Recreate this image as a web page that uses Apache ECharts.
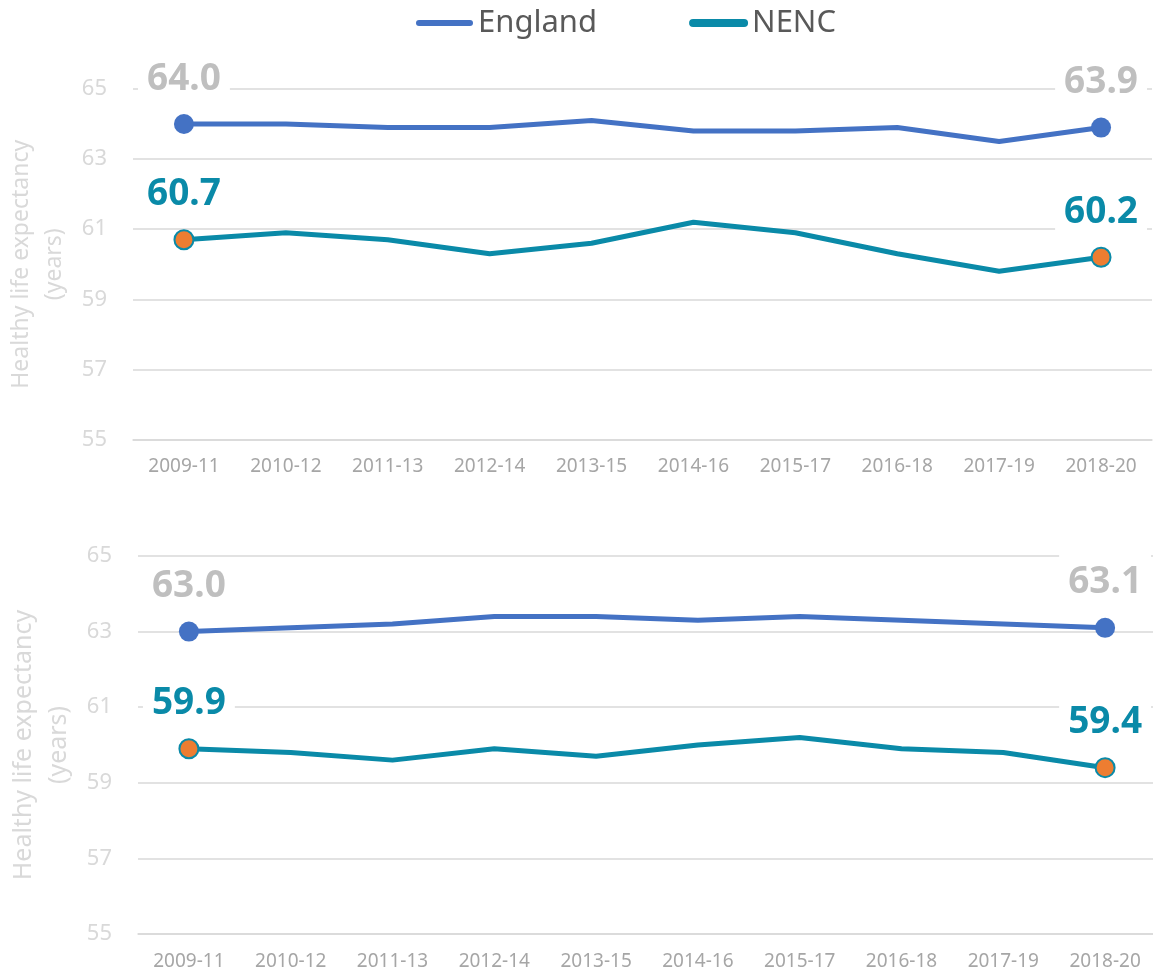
<!DOCTYPE html>
<html>
<head>
<meta charset="utf-8">
<title>Healthy life expectancy – England vs NENC</title>
<script src="https://cdn.jsdelivr.net/npm/echarts@6/dist/echarts.min.js"></script>
<style>
  html, body { margin: 0; padding: 0; background: #ffffff; }
  #chart { width: 1153px; height: 972px; }
</style>
</head>
<body>
<div id="chart"></div>
<script>
// Three-year periods shown on both panels
const periods = ['2009-11', '2010-12', '2011-13', '2012-14', '2013-15',
                 '2014-16', '2015-17', '2016-18', '2017-19', '2018-20'];

// Upper panel (years)
const englandUpper = [64.0, 64.0, 63.9, 63.9, 64.1, 63.8, 63.8, 63.9, 63.5, 63.9];
const nencUpper    = [60.7, 60.9, 60.7, 60.3, 60.6, 61.2, 60.9, 60.3, 59.8, 60.2];

// Lower panel (years)
const englandLower = [63.0, 63.1, 63.2, 63.4, 63.4, 63.3, 63.4, 63.3, 63.2, 63.1];
const nencLower    = [59.9, 59.8, 59.6, 59.9, 59.7, 60.0, 60.2, 59.9, 59.8, 59.4];

const yTicks = [55, 57, 59, 61, 63, 65];
const yAxisTitle = 'Healthy life expectancy\n(years)';

const ENGLAND = '#4472C4';
const NENC = '#0A8AA8';
const MARKER_FILL = '#ED7D31';
const GRID = '#D9D9D9';

// Only the first and last period carry a marker and a value label
function endpoints(values, opts) {
  const last = values.length - 1;
  return values.map((v, i) => {
    const isEnd = (i === 0 || i === last);
    return {
      value: v,
      symbol: isEnd ? 'circle' : 'none',
      symbolSize: opts.size,
      label: { show: isEnd }
    };
  });
}

function lineSeries(name, values, idx, opts) {
  return {
    name: name,
    type: 'line',
    xAxisIndex: idx,
    yAxisIndex: idx,
    data: endpoints(values, opts),
    showAllSymbol: true,
    lineStyle: { color: opts.color, width: 5 },
    itemStyle: opts.marker,
    label: {
      position: 'inside',
      offset: [0, -45],
      formatter: p => p.value.toFixed(1),
      fontFamily: 'Noto Sans',
      fontWeight: 'bold',
      fontSize: 37,
      lineHeight: 40,
      color: opts.labelColor,
      backgroundColor: '#ffffff',
      padding: [10, 9, 6, 9]
    },
    emphasis: { disabled: true },
    z: 3
  };
}

function yAxisFor(gridIdx, nameSize, nameLine, gap) {
  return {
    type: 'value',
    gridIndex: gridIdx,
    min: yTicks[0],
    max: yTicks[yTicks.length - 1],
    interval: 2,
    name: yAxisTitle,
    nameLocation: 'middle',
    nameRotate: 90,
    nameGap: gap,
    nameTextStyle: {
      color: GRID,
      fontFamily: 'Noto Sans',
      fontSize: nameSize,
      lineHeight: nameLine,
      align: 'center'
    },
    axisLine: { show: false },
    axisTick: { show: false },
    axisLabel: {
      color: GRID,
      fontFamily: 'Noto Sans',
      fontSize: 22,
      margin: 26
    },
    splitLine: { lineStyle: { color: GRID, width: 1.5 } }
  };
}

function xAxisFor(gridIdx) {
  return {
    type: 'category',
    gridIndex: gridIdx,
    data: periods,
    boundaryGap: true,
    axisLine: { show: true, lineStyle: { color: GRID, width: 1.5 } },
    axisTick: { show: false },
    axisLabel: {
      color: '#A6A6A6',
      fontFamily: 'Noto Sans',
      fontSize: 19,
      margin: 18,
      interval: 0
    }
  };
}

const englandStyle = {
  color: ENGLAND,
  size: 20,
  labelColor: '#BFBFBF',
  marker: { color: ENGLAND }
};
const nencStyle = {
  color: NENC,
  size: 19,
  labelColor: NENC,
  marker: { color: MARKER_FILL, borderColor: NENC, borderWidth: 2 }
};

const legendIcon = 'path://M3,0 L54,0 A3,3 0 0 1 54,6 L3,6 A3,3 0 0 1 3,0 Z';

const chart = echarts.init(document.getElementById('chart'), null, { renderer: 'canvas' });
chart.setOption({
  animation: false,
  backgroundColor: '#ffffff',
  legend: {
    left: 411,
    top: -2,
    itemWidth: 57,
    itemHeight: 6,
    itemGap: 92,
    selectedMode: false,
    data: [
      { name: 'England', icon: legendIcon, itemStyle: { color: ENGLAND } },
      { name: 'NENC', icon: legendIcon, itemStyle: { color: NENC } }
    ],
    textStyle: {
      color: '#595959',
      fontFamily: 'Noto Sans',
      fontSize: 31,
      lineHeight: 40
    }
  },
  grid: [
    { left: 133, top: 89, width: 1019, height: 350.5, outerBoundsMode: 'none' },
    { left: 138, top: 556, width: 1018, height: 378, outerBoundsMode: 'none' }
  ],
  xAxis: [xAxisFor(0), xAxisFor(1)],
  yAxis: [yAxisFor(0, 23, 33, 56), yAxisFor(1, 25, 35, 60)],
  series: [
    lineSeries('England', englandUpper, 0, englandStyle),
    lineSeries('NENC', nencUpper, 0, nencStyle),
    lineSeries('England', englandLower, 1, englandStyle),
    lineSeries('NENC', nencLower, 1, nencStyle)
  ]
});
</script>
</body>
</html>
